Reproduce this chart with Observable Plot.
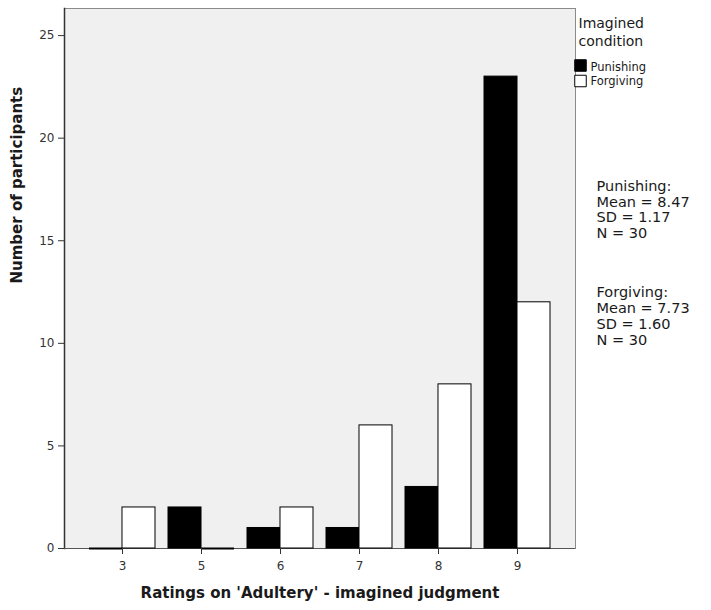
<!DOCTYPE html>
<html>
<head>
<meta charset="utf-8">
<script src="https://cdn.jsdelivr.net/npm/d3@7"></script>
<script src="https://cdn.jsdelivr.net/npm/@observablehq/plot@0.6"></script>
<style>
  html, body { margin: 0; padding: 0; background: #ffffff; }
  #chart { width: 711px; height: 610px; }
  #chart svg { font-family: "DejaVu Sans", sans-serif; }
</style>
</head>
<body>
<div id="chart"></div>
<script>
// ---- data ----
const ratings = ["3", "5", "6", "7", "8", "9"];
const conditions = ["Punishing", "Forgiving"];
const punishing = [0, 2, 1, 1, 3, 23];
const forgiving = [2, 0, 2, 6, 8, 12];
const yTicks = [0, 5, 10, 15, 20, 25];
const statMeans = ["8.47", "7.73"];
const statSDs = ["1.17", "1.60"];
const statNs = ["30", "30"];
const xTitle = "Ratings on 'Adultery' - imagined judgment";
const yTitle = "Number of participants";
const legendTitle = ["Imagined", "condition"];

// ---- table ----
const rows = ratings.flatMap((r, i) => [
  {rating: r, condition: conditions[0], count: punishing[i]},
  {rating: r, condition: conditions[1], count: forgiving[i]}
]);
const pos = rows.filter(d => d.count > 0);
const zero = rows.filter(d => d.count === 0);

// ---- layout ----
const W = 711, H = 610;
const mL = 64, mR = 136, mT = 8, mB = 62;
const pIn = 0.165, pOut = 0.316;
const step = (W - mL - mR) / (ratings.length - pIn + 2 * pOut);
const half = step * (1 - pIn) / 2;

const fillOf = c => c === conditions[0] ? "black" : "white";

const statLines = conditions.map((c, i) =>
  [`${c}:`, `Mean = ${statMeans[i]}`, `SD = ${statSDs[i]}`, `N = ${statNs[i]}`]);

const chart = Plot.plot({
  width: W,
  height: H,
  marginLeft: mL,
  marginRight: mR,
  marginTop: mT,
  marginBottom: mB,
  style: {fontFamily: "DejaVu Sans, sans-serif", background: "white"},
  x: {type: "band", domain: ratings, paddingInner: pIn, paddingOuter: pOut, label: null},
  y: {domain: [0, 26.32], label: null},
  marks: [
    Plot.frame({fill: "#f0f0f0", stroke: "#8a8a8a"}),
    Plot.frame({anchor: "left", stroke: "#333", strokeWidth: 1.5}),
    Plot.ruleY([0], {stroke: "#555"}),
    Plot.barY(pos.filter(d => d.condition === conditions[0]), {
      x: "rating", y: "count", fill: "black", stroke: "black", strokeWidth: 1, insetRight: half
    }),
    Plot.barY(pos.filter(d => d.condition === conditions[1]), {
      x: "rating", y: "count", fill: "white", stroke: "black", strokeWidth: 1, insetLeft: half
    }),
    Plot.tickY(zero.filter(d => d.condition === conditions[0]), {
      x: "rating", y: "count", stroke: "black", strokeWidth: 2, insetRight: half
    }),
    Plot.tickY(zero.filter(d => d.condition === conditions[1]), {
      x: "rating", y: "count", stroke: "black", strokeWidth: 2, insetLeft: half
    }),
    Plot.axisY({ticks: yTicks, tickSize: 6, tickPadding: 4, fontSize: 12, stroke: "#333", color: "#333", label: null}),
    Plot.axisX({tickSize: 6, tickPadding: 7, fontSize: 12, stroke: "#333", color: "#333", label: null}),
    // axis titles
    Plot.text([xTitle], {frameAnchor: "bottom", lineAnchor: "top", dy: 39, fontSize: 15, fontWeight: "bold", fill: "#1a1a1a"}),
    Plot.text([yTitle], {frameAnchor: "left", rotate: -90, dx: -47, dy: 5, fontSize: 15, fontWeight: "bold", fill: "#1a1a1a"}),
    // legend
    ...legendTitle.map((t, i) => Plot.text([t], {
      frameAnchor: "top-right", textAnchor: "start", lineAnchor: "top", dx: 3, dy: 10 + i * 18,
      fontSize: 14, fill: "#1a1a1a"
    })),
    ...conditions.map((c, i) => Plot.dot([c], {
      frameAnchor: "top-right", dx: 5, dy: 57 + i * 15.5, symbol: "square", r: 6.5,
      fill: fillOf(c), stroke: "black", strokeWidth: 1
    })),
    ...conditions.map((c, i) => Plot.text([c], {
      frameAnchor: "top-right", textAnchor: "start", lineAnchor: "top", dx: 15, dy: 54 + i * 14.5,
      fontSize: 11.5, fill: "#1a1a1a"
    })),
    // stats
    ...statLines.flatMap((lines, i) => lines.map((t, j) => Plot.text([t], {
      frameAnchor: "top-right", textAnchor: "start", lineAnchor: "top", dx: 21, dy: 172 + i * 106.5 + j * 15.8,
      fontSize: 14.5, fill: "#1a1a1a"
    })))
  ]
});
document.getElementById("chart").append(chart);
</script>
</body>
</html>
